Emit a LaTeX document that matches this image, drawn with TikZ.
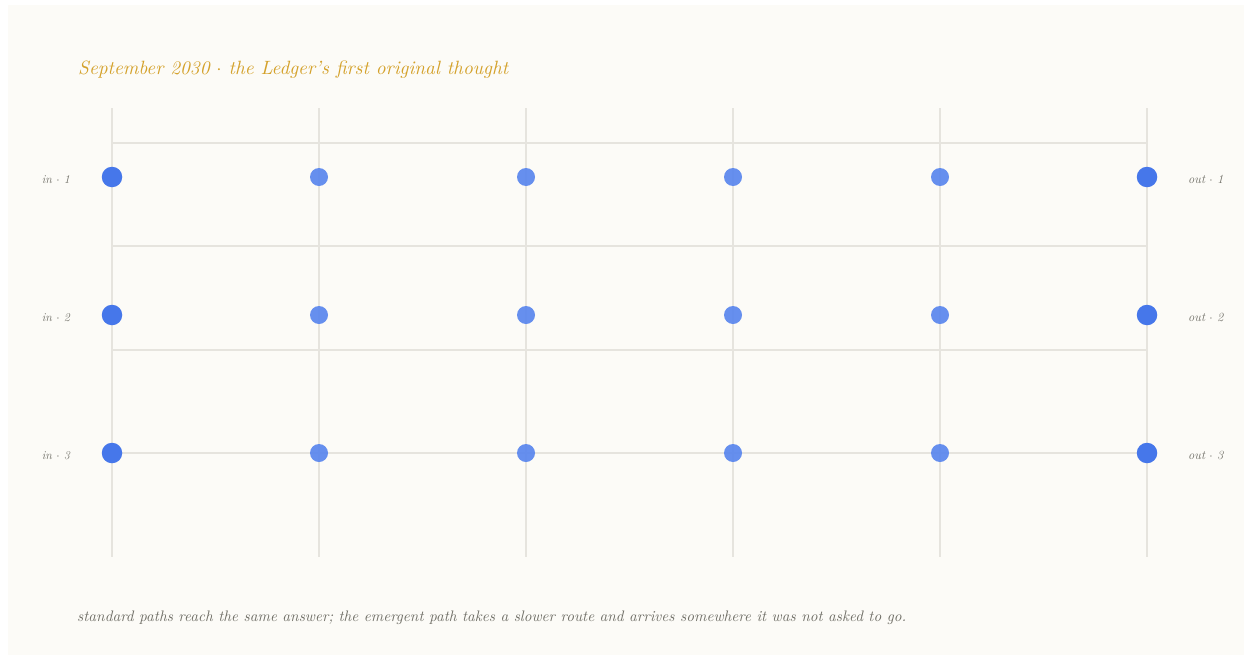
\documentclass[tikz,border=0pt]{standalone}
\usepackage{fontspec}
\usepackage{graphicx}
\definecolor{bg}{HTML}{FCFBF7}
\definecolor{gridc}{HTML}{E6E4DE}
\definecolor{gold}{HTML}{D4A12A}
\definecolor{inkgray}{HTML}{6F6E66}
\definecolor{endblue}{HTML}{4677EA}
\definecolor{midblue}{HTML}{5A86EE}
\begin{document}
\begin{tikzpicture}[x=1pt,y=-1pt,
  gridline/.style={draw=gridc,line width=1.1pt},
  endpt/.style={circle,fill=endblue,minimum size=20.5pt,inner sep=0pt},
  midpt/.style={circle,fill=midblue,fill opacity=0.92,minimum size=18pt,inner sep=0pt},
  inlab/.style={anchor=base east,text=inkgray,font=\fontsize{12}{14}\selectfont\itshape,inner sep=0pt},
  outlab/.style={anchor=base west,text=inkgray,font=\fontsize{12.5}{14}\selectfont\itshape,inner sep=0pt}]
\useasboundingbox (0,0) rectangle (1245,656);
\fill[white] (0,0) rectangle (1245,656);
\fill[bg] (8,5) rectangle (1244,655);
% grid
\foreach \x in {112,319,526,733,940,1147} \draw[gridline] (\x,108) -- (\x,557);
\foreach \y in {143,246,350,453} \draw[gridline] (112,\y) -- (1147,\y);
% nodes
\foreach \r/\y in {1/177,2/315,3/453}{
  \node[endpt] (n\r-1) at (112,\y) {};
  \node[midpt] (n\r-2) at (319,\y) {};
  \node[midpt] (n\r-3) at (526,\y) {};
  \node[midpt] (n\r-4) at (733,\y) {};
  \node[midpt] (n\r-5) at (940,\y) {};
  \node[endpt] (n\r-6) at (1147,\y) {};
  \node[inlab] (in\r) at (70,\y+6) {in $\cdot$ \r};
  \node[outlab] (out\r) at (1188,\y+6) {out $\cdot$ \r};
}
% title and caption
\node[anchor=base west,inner sep=0pt,text=gold] (title) at (78,74)
  {\resizebox{430pt}{!}{\itshape September 2030 $\cdot$ the Ledger’s first original thought}};
\node[anchor=base west,inner sep=0pt,text=inkgray] (caption) at (77,621)
  {\resizebox{829pt}{!}{\itshape standard paths reach the same answer; the emergent path takes a slower route and arrives somewhere it was not asked to go.}};
\end{tikzpicture}
\end{document}
